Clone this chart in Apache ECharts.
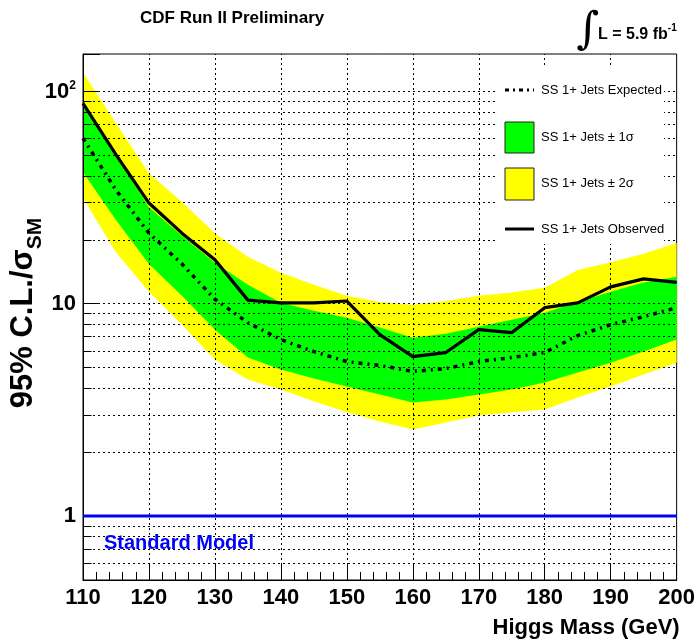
<!DOCTYPE html>
<html>
<head>
<meta charset="utf-8">
<script src="https://cdn.jsdelivr.net/npm/echarts@6/dist/echarts.min.js"></script>
<style>
html,body{margin:0;padding:0;background:#fff;}
#c{width:698px;height:643px;}
</style>
</head>
<body>
<div id="c"></div>
<script>
// ---- data ----
const mass = [110,115,120,125,130,135,140,145,150,155,160,165,170,175,180,185,190,195,200];
const observed = [87.9,50.4,29.8,21.5,16.1,10.4,10.1,10.1,10.3,7.15,5.64,5.89,7.55,7.31,9.58,10.1,12.0,13.1,12.6];
const expected = [60.2,34.3,21.5,15.4,10.5,8.14,6.78,5.95,5.34,5.12,4.80,4.95,5.34,5.58,5.89,7.08,7.97,8.69,9.58];
const plus1σ = [87.9,50.1,28.5,20.9,15.6,12.3,10.1,9.27,8.60,7.72,6.92,7.23,7.80,8.41,9.07,10.2,11.4,12.6,13.4];
const minus1σ = [41.6,24.8,15.4,10.9,7.55,5.58,4.90,4.45,4.08,3.74,3.43,3.54,3.74,3.95,4.26,4.74,5.28,5.95,6.78];
const plus2σ = [122.8,70.8,41.2,30.1,21.5,16.6,14.0,12.3,10.9,10.2,9.89,10.3,10.9,11.3,11.9,14.4,15.7,17.2,19.3];
const minus2σ = [31.5,17.5,11.4,7.97,5.46,4.40,3.95,3.47,3.08,2.79,2.56,2.76,2.98,3.08,3.18,3.62,4.08,4.64,5.28];
const smLevel = [1, 1];
const smRange = [110, 200];
const yMajor = [1, 10, 100];
const yMinor = [0.6,0.7,0.8,0.9,2,3,4,5,6,7,8,9,20,30,40,50,60,70,80,90];
const xGrid = [120,130,140,150,160,170,180,190];

const FONT = "'Liberation Sans',Arial,Helvetica,sans-serif";

function band(upper, lower, color) {
  return function (params, api) {
    const pts = [];
    for (let i = 0; i < mass.length; i++) pts.push(api.coord([mass[i], upper[i]]));
    for (let i = mass.length - 1; i >= 0; i--) pts.push(api.coord([mass[i], lower[i]]));
    return { type: 'polygon', shape: { points: pts }, style: { fill: color } };
  };
}

const gridDot = { color: '#000', width: 1, type: [2, 3] };
const gridLines = [];
yMinor.concat(yMajor).forEach(v => gridLines.push({ yAxis: v }));
xGrid.forEach(v => gridLines.push({ xAxis: v }));
// short solid minor ticks on the left axis
yMinor.forEach(v => gridLines.push([{ coord: [110, v], lineStyle: { type: 'solid' } }, { coord: [111.3, v] }]));

const chart = echarts.init(document.getElementById('c'), null, { renderer: 'canvas' });
const LZ = 100;
chart.setOption({
  animation: false,
  grid: { left: 83, right: 18, top: 54, bottom: 63, show: true, borderColor: '#000', borderWidth: 1, backgroundColor: 'transparent' },
  xAxis: {
    type: 'value', min: 110, max: 200, interval: 10,
    axisLine: { show: true, lineStyle: { color: '#000', width: 1 } },
    axisTick: { show: true, inside: true, length: 16, lineStyle: { color: '#000' } },
    minorTick: { show: true, splitNumber: 5, length: 8, lineStyle: { color: '#000' } },
    splitLine: { show: false },
    axisLabel: { color: '#000', fontFamily: FONT, fontWeight: 'bold', fontSize: 22, margin: 7 },
    name: 'Higgs Mass (GeV)', nameLocation: 'end',
    nameTextStyle: { color: '#000', fontFamily: FONT, fontWeight: 'bold', fontSize: 22, align: 'right', verticalAlign: 'top', padding: [37, -3, 0, 0] },
    nameGap: 0, z: 4
  },
  yAxis: {
    type: 'log', logBase: 10, min: 0.5, max: 150,
    axisLine: { show: true, lineStyle: { color: '#000', width: 1 } },
    axisTick: { show: true, inside: true, length: 17, lineStyle: { color: '#000' } },
    splitLine: { show: false },
    axisLabel: {
      margin: 7, color: '#000', fontFamily: FONT, fontWeight: 'bold', fontSize: 22,
      formatter: function (v) {
        if (Math.abs(v - 100) < 1e-6) return '{b|10}{s|2}';
        if (Math.abs(v - 10) < 1e-6) return '10';
        if (Math.abs(v - 1) < 1e-6) return '1';
        return '';
      },
      rich: {
        b: { fontFamily: FONT, fontWeight: 'bold', fontSize: 22, color: '#000', verticalAlign: 'bottom', lineHeight: 24 },
        s: { fontFamily: FONT, fontWeight: 'bold', fontSize: 12, color: '#000', verticalAlign: 'top', lineHeight: 24 }
      }
    },
    z: 4
  },
  series: [
    { type: 'custom', name: '±2σ', z: 1, silent: true, clip: true, data: [[110, 1]], renderItem: band(plus2σ, minus2σ, '#ffff00') },
    { type: 'custom', name: '±1σ', z: 1, silent: true, clip: true, data: [[110, 1]], renderItem: band(plus1σ, minus1σ, '#00ff00') },
    {
      type: 'line', name: 'Standard Model', z: 6, silent: true, symbol: 'none',
      data: smRange.map((x, i) => [x, smLevel[i]]),
      lineStyle: { color: '#0000ff', width: 3 },
      markLine: {
        silent: true, symbol: 'none', z: 3, animation: false,
        label: { show: false },
        lineStyle: gridDot,
        data: gridLines
      }
    },
    {
      type: 'line', name: 'SS 1+ Jets Expected', z: 7, silent: true, symbol: 'none',
      data: mass.map((x, i) => [x, expected[i]]),
      lineStyle: { color: '#000', width: 3.5, type: [4, 5, 2, 5] }
    },
    {
      type: 'line', name: 'SS 1+ Jets Observed', z: 8, silent: true, symbol: 'none',
      data: mass.map((x, i) => [x, observed[i]]),
      lineStyle: { color: '#000', width: 3.2 }
    }
  ],
  graphic: [
    { type: 'text', left: 140, top: 10, style: { text: 'CDF Run II Preliminary', fontFamily: FONT, fontWeight: 'bold', fontSize: 17, fill: '#000' } },
    { type: 'text', x: 588, y: 32, style: { text: '∫', fontFamily: "'DejaVu Serif','DejaVu Sans',serif", fontSize: 44, fill: '#000', align: 'center', verticalAlign: 'middle' } },
    { type: 'text', x: 598, y: 33, style: {
        text: '{m|L = 5.9 fb}{s|-1}', verticalAlign: 'middle',
        rich: {
          m: { fontFamily: FONT, fontWeight: 'bold', fontSize: 16, fill: '#000', verticalAlign: 'bottom', lineHeight: 20 },
          s: { fontFamily: FONT, fontWeight: 'bold', fontSize: 10, fill: '#000', verticalAlign: 'top', lineHeight: 20 }
        } } },
    { type: 'text', x: 27, y: 313, rotation: Math.PI / 2, style: {
        text: '{m|95% C.L./σ}{s|SM}', align: 'center', verticalAlign: 'middle',
        rich: {
          m: { fontFamily: FONT, fontWeight: 'bold', fontSize: 31, fill: '#000', verticalAlign: 'top', lineHeight: 38 },
          s: { fontFamily: FONT, fontWeight: 'bold', fontSize: 21, fill: '#000', verticalAlign: 'bottom', lineHeight: 38 }
        } } },
    { type: 'text', left: 104, top: 533, z: 20, style: { text: 'Standard Model', fontFamily: FONT, fontWeight: 'bold', fontSize: 20, fill: '#0000ff' } },
    // legend box
    { type: 'rect', z: LZ, shape: { x: 498, y: 68, width: 166, height: 176 }, style: { fill: '#fff' } },
    { type: 'line', z: LZ, shape: { x1: 505, y1: 90, x2: 534, y2: 90 }, style: { stroke: '#000', lineWidth: 3, lineDash: [4, 4, 2, 4] } },
    { type: 'text', z: LZ, x: 541, y: 90, style: { text: 'SS 1+ Jets Expected', fontFamily: FONT, fontSize: 13, fill: '#000', verticalAlign: 'middle' } },
    { type: 'rect', z: LZ, shape: { x: 505, y: 122, width: 29, height: 31 }, style: { fill: '#00ff00', stroke: '#222', lineWidth: 1 } },
    { type: 'text', z: LZ, x: 541, y: 137, style: { text: 'SS 1+ Jets ± 1σ', fontFamily: FONT, fontSize: 13, fill: '#000', verticalAlign: 'middle' } },
    { type: 'rect', z: LZ, shape: { x: 505, y: 168, width: 29, height: 32 }, style: { fill: '#ffff00', stroke: '#222', lineWidth: 1 } },
    { type: 'text', z: LZ, x: 541, y: 183, style: { text: 'SS 1+ Jets ± 2σ', fontFamily: FONT, fontSize: 13, fill: '#000', verticalAlign: 'middle' } },
    { type: 'line', z: LZ, shape: { x1: 505, y1: 229, x2: 534, y2: 229 }, style: { stroke: '#000', lineWidth: 3 } },
    { type: 'text', z: LZ, x: 541, y: 229, style: { text: 'SS 1+ Jets Observed', fontFamily: FONT, fontSize: 13, fill: '#000', verticalAlign: 'middle' } }
  ]
});
</script>
</body>
</html>
